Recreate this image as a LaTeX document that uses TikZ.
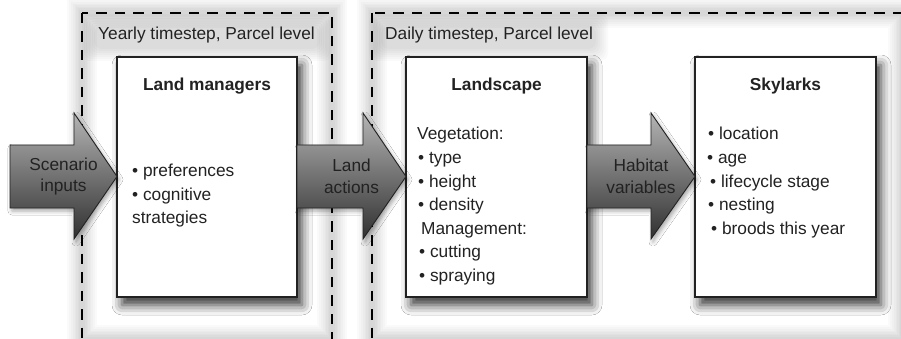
\documentclass[tikz,border=0pt]{standalone}
\usepackage{fontspec}
\setmainfont{Liberation Sans}
\usetikzlibrary{shadows.blur}
\definecolor{ink}{HTML}{222222}
\definecolor{arrtop}{HTML}{B4B4B4}
\definecolor{arrbot}{HTML}{303030}
\tikzset{
  txt/.style={inner sep=0pt, anchor=base west, text=ink, font=\fontsize{17.3pt}{23.5pt}\selectfont},
  ttl/.style={inner sep=0pt, anchor=base, text=ink, font=\fontsize{17.3pt}{23.5pt}\selectfont\bfseries},
  modelbox/.style={draw=ink, line width=1.4pt, fill=white, minimum width=180pt, minimum height=240pt, inner sep=0pt,
    blur shadow={shadow xshift=5pt, shadow yshift=-8pt, shadow blur radius=10pt, shadow opacity=80}},
  glowband/.style={draw=black, draw opacity=0.018},
  dashframe/.style={draw=black, line width=1.8pt, dash pattern=on 10.5pt off 8pt},
  blockarrow/.style={draw=ink, line width=0.9pt, top color=arrtop, bottom color=arrbot,
    blur shadow={shadow xshift=2pt, shadow yshift=-3pt, shadow blur radius=4pt, shadow opacity=35}},
  arrtxt/.style={inner sep=0pt, align=center, text=ink, font=\fontsize{17.3pt}{21.5pt}\selectfont},
  grouptitle/.style={inner sep=0pt, anchor=base west, text=ink, font=\fontsize{17.3pt}{23.5pt}\selectfont},
  titleglow/.style={fill=black, fill opacity=0.018, rounded corners=8pt}
}
\newcommand\myarrow[3]{% shaft left, head base, tip
  \path[blockarrow] (#1,145) -- (#2,145) -- (#2,113) -- (#3,176.5) -- (#2,239) -- (#2,208) -- (#1,208) -- cycle;
}
\begin{document}
\begin{tikzpicture}[x=1pt,y=-1pt]
\useasboundingbox (0,0) rectangle (901,339);
\fill[white] (0,0) rectangle (901,339);

% soft glow bands around the dashed frames and behind the group titles
\foreach \w in {30,26,22,18,15,12,9,6}{
  \draw[glowband, line width=\w pt] (82,13) rectangle (332,339.5);
  \draw[glowband, line width=\w pt] (372,13) rectangle (903,339.5);
}
\foreach \e in {12,10,8,6,4,2,0}{
  \path[titleglow] (94-\e,26-\e) rectangle (320+\e,49+\e);
  \path[titleglow] (381-\e,26-\e) rectangle (596+\e,49+\e);
}
\draw[dashframe] (82,13) rectangle (332,339.5);
\draw[dashframe] (372,13) rectangle (903,339.5);

\node[grouptitle] (yt) at (98,40) {Yearly timestep, Parcel level};
\node[grouptitle] (dt) at (385,40) {Daily timestep, Parcel level};

% boxes
\node[modelbox] (lm) at (207,177) {};
\node[modelbox, minimum width=181pt] (ls) at (496.5,177) {};
\node[modelbox, minimum width=181pt] (sk) at (785.5,177) {};

% arrows
\myarrow{10}{74}{117}
\myarrow{297}{363}{406}
\myarrow{587}{651}{695}
\node[arrtxt] (a1t) at (63.5,176.5) {Scenario\\inputs};
\node[arrtxt] (a2t) at (351.5,176.5) {Land\\actions};
\node[arrtxt] (a3t) at (641,176.5) {Habitat\\variables};

% Land managers
\node[ttl] (lmt) at (207,91) {Land managers};
\node[txt] (lm1) at (132,176) {• preferences};
\node[txt] (lm2) at (132,200) {• cognitive};
\node[txt] (lm3) at (132,223) {strategies};

% Landscape
\node[ttl] (lst) at (496.5,91) {Landscape};
\node[txt] (ls1) at (417,140) {Vegetation:};
\node[txt] (ls2) at (418,163.5) {• type};
\node[txt] (ls3) at (418,187) {• height};
\node[txt] (ls4) at (418,210.5) {• density};
\node[txt] (ls5) at (421,234) {Management:};
\node[txt] (ls6) at (419,257.5) {• cutting};
\node[txt] (ls7) at (419,281) {• spraying};

% Skylarks
\node[ttl] (skt) at (785.5,91) {Skylarks};
\node[txt] (sk1) at (708,140) {• location};
\node[txt] (sk2) at (707,163.5) {• age};
\node[txt] (sk3) at (710,187) {• lifecycle stage};
\node[txt] (sk4) at (708,210.5) {• nesting};
\node[txt] (sk5) at (711,234) {• broods this year};
\end{tikzpicture}
\end{document}
